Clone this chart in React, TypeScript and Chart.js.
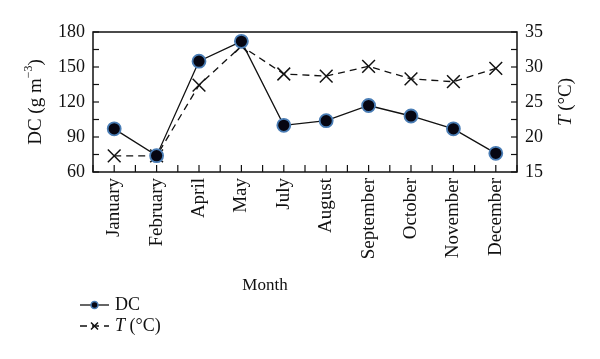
import React, { useEffect, useRef } from "react";
import { Chart, registerables } from "chart.js";

Chart.register(...registerables);

const months = ["January", "February", "April", "May", "July", "August", "September", "October", "November", "December"];
const dcValues = [97, 74, 155, 172, 100, 104, 117, 108, 97, 76];
const tempValues = [17.3, 17.3, 27.4, 33.0, 29.0, 28.7, 30.1, 28.3, 27.9, 29.8];
const dcTicks = { min: 60, max: 180, step: 30 };
const tTicks = { min: 15, max: 35, step: 5 };
const xTitle = "Month";

const FONT = "'Liberation Serif', 'DejaVu Serif', serif";

const overlay = {
  id: "overlay",
  afterDraw(chart: any) {
    const { ctx, chartArea: a, scales } = chart;
    ctx.save();
    ctx.strokeStyle = "#111";
    ctx.lineWidth = 1.5;
    ctx.strokeRect(a.left, a.top, a.right - a.left, a.bottom - a.top);
    ctx.lineWidth = 1.2;
    const y = scales.y;
    for (let v = dcTicks.min; v <= dcTicks.max; v += dcTicks.step / 2) {
      const py = y.getPixelForValue(v);
      ctx.beginPath();
      ctx.moveTo(a.left, py);
      ctx.lineTo(a.left + 6, py);
      ctx.stroke();
    }
    const y1 = scales.y1;
    for (let v = tTicks.min; v <= tTicks.max; v += tTicks.step / 2) {
      const py = y1.getPixelForValue(v);
      ctx.beginPath();
      ctx.moveTo(a.right, py);
      ctx.lineTo(a.right - 6, py);
      ctx.stroke();
    }
    const x = scales.x;
    const n = months.length;
    for (let i = -0.5; i <= n - 0.5 + 1e-6; i += 0.5) {
      const px = x.getPixelForValue(i);
      ctx.beginPath();
      ctx.moveTo(px, a.bottom);
      ctx.lineTo(px, a.bottom - 7);
      ctx.stroke();
    }
    ctx.fillStyle = "#111";
    ctx.textBaseline = "middle";
    // left title
    ctx.save();
    ctx.translate(36, (a.top + a.bottom) / 2);
    ctx.rotate(-Math.PI / 2);
    const p1 = "DC (g m";
    const sup = "−3";
    const p2 = ")";
    ctx.font = `19px ${FONT}`;
    const w1 = ctx.measureText(p1).width;
    const w3 = ctx.measureText(p2).width;
    ctx.font = `12px ${FONT}`;
    const w2 = ctx.measureText(sup).width;
    const sx = -(w1 + w2 + w3) / 2;
    ctx.textAlign = "left";
    ctx.font = `19px ${FONT}`;
    ctx.fillText(p1, sx, 0);
    ctx.font = `12px ${FONT}`;
    ctx.fillText(sup, sx + w1, -7);
    ctx.font = `19px ${FONT}`;
    ctx.fillText(p2, sx + w1 + w2, 0);
    ctx.restore();
    // right title
    ctx.save();
    ctx.translate(566, (a.top + a.bottom) / 2);
    ctx.rotate(-Math.PI / 2);
    ctx.font = `italic 19px ${FONT}`;
    const tw = ctx.measureText("T").width;
    ctx.font = `19px ${FONT}`;
    const rw = ctx.measureText(" (°C)").width;
    const rx = -(tw + rw) / 2;
    ctx.textAlign = "left";
    ctx.font = `italic 19px ${FONT}`;
    ctx.fillText("T", rx, 0);
    ctx.font = `19px ${FONT}`;
    ctx.fillText(" (°C)", rx + tw, 0);
    ctx.restore();
    // x title
    ctx.textAlign = "center";
    ctx.font = `17px ${FONT}`;
    ctx.fillText(xTitle, 265, 286);
    // legend
    const rows = [
      { ds: chart.data.datasets[0], y: 305, label: [{ t: "DC", it: false }] },
      { ds: chart.data.datasets[1], y: 326, label: [{ t: "T", it: true }, { t: " (°C)", it: false }] },
    ];
    for (const r of rows) {
      ctx.save();
      ctx.strokeStyle = "#111";
      ctx.lineWidth = 1.3;
      ctx.setLineDash(r.ds.borderDash || []);
      ctx.beginPath();
      ctx.moveTo(80, r.y);
      ctx.lineTo(109, r.y);
      ctx.stroke();
      ctx.setLineDash([]);
      if (r.ds.pointStyle === "crossRot") {
        ctx.lineWidth = 1.5;
        ctx.beginPath();
        ctx.moveTo(91, r.y - 3.5);
        ctx.lineTo(98, r.y + 3.5);
        ctx.moveTo(98, r.y - 3.5);
        ctx.lineTo(91, r.y + 3.5);
        ctx.stroke();
      } else {
        ctx.fillStyle = r.ds.pointBackgroundColor;
        ctx.strokeStyle = r.ds.pointBorderColor;
        ctx.lineWidth = 1.5;
        ctx.beginPath();
        ctx.arc(94.5, r.y, 3.5, 0, Math.PI * 2);
        ctx.fill();
        ctx.stroke();
      }
      ctx.restore();
      let lx = 115;
      ctx.textAlign = "left";
      for (const part of r.label) {
        ctx.font = `${part.it ? "italic " : ""}18px ${FONT}`;
        ctx.fillText(part.t, lx, r.y);
        lx += ctx.measureText(part.t).width;
      }
    }
    ctx.restore();
  },
};

export default function App() {
  const ref = useRef<HTMLCanvasElement>(null);
  useEffect(() => {
    document.body.style.margin = "0";
    const chart = new Chart(ref.current!, {
      type: "line",
      data: {
        labels: months,
        datasets: [
          {
            label: "DC",
            data: dcValues,
            yAxisID: "y",
            borderColor: "#111",
            borderWidth: 1.3,
            pointStyle: "circle",
            pointRadius: 6.5,
            pointBackgroundColor: "#060612",
            pointBorderColor: "#4a7db5",
            pointBorderWidth: 1.8,
            tension: 0,
          },
          {
            label: "T (°C)",
            data: tempValues,
            yAxisID: "y1",
            borderColor: "#111",
            borderWidth: 1.3,
            borderDash: [7, 5],
            pointStyle: "crossRot",
            pointRadius: 9,
            pointBorderColor: "#111",
            pointBackgroundColor: "#111",
            pointBorderWidth: 1.5,
            tension: 0,
          },
        ],
      },
      options: {
        animation: false,
        responsive: false,
        layout: { padding: { top: 32, left: 0, right: 0, bottom: 0 } },
        plugins: { legend: { display: false }, tooltip: { enabled: false } },
        scales: {
          x: {
            offset: true,
            grid: { display: false, drawTicks: false },
            border: { display: false },
            ticks: {
              maxRotation: 90,
              minRotation: 90,
              padding: 6,
              color: "#111",
              font: { family: FONT, size: 19 },
              autoSkip: false,
            },
            afterFit: (s: any) => {
              s.height = 187;
            },
          },
          y: {
            position: "left",
            min: dcTicks.min,
            max: dcTicks.max,
            grid: { display: false, drawTicks: false },
            border: { display: false },
            ticks: { stepSize: dcTicks.step, padding: 8, color: "#111", font: { family: FONT, size: 18 } },
            afterFit: (s: any) => {
              s.width = 93;
            },
          },
          y1: {
            position: "right",
            min: tTicks.min,
            max: tTicks.max,
            grid: { display: false, drawTicks: false },
            border: { display: false },
            ticks: { stepSize: tTicks.step, padding: 8, color: "#111", font: { family: FONT, size: 18 } },
            afterFit: (s: any) => {
              s.width = 83;
            },
          },
        },
      },
      plugins: [overlay],
    });
    return () => chart.destroy();
  }, []);
  return <canvas ref={ref} width={600} height={359} style={{ display: "block" }} />;
}
